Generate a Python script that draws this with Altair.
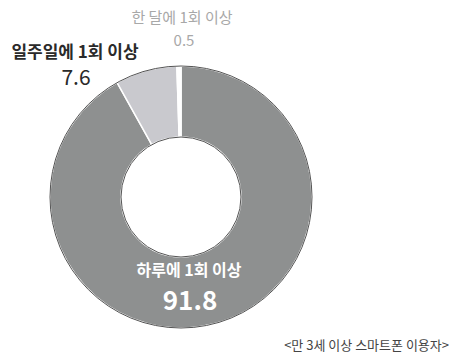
import altair as alt
import pandas as pd

categories = ["하루에 1회 이상", "일주일에 1회 이상", "한 달에 1회 이상"]
values = [91.8, 7.6, 0.5]
order = [1, 2, 3]
colors = ["#8e9090", "#c9c9ce", "#ffffff"]

df = pd.DataFrame({"cat": categories, "val": values, "ord": order})

FONT = "Noto Sans CJK KR"

donut = alt.Chart(df).mark_arc(
    outerRadius=131, innerRadius=60, stroke="#ffffff", strokeWidth=1.5
).encode(
    theta=alt.Theta("val:Q", stack=True),
    order=alt.Order("ord:Q"),
    color=alt.Color("cat:N", scale=alt.Scale(domain=categories, range=colors), legend=None),
    x=alt.value(181),
    y=alt.value(197),
)

outline = alt.Chart(pd.DataFrame({"a": [0]})).mark_arc(
    outerRadius=131, innerRadius=60, fillOpacity=0, stroke="#555555", strokeWidth=1
).encode(
    theta=alt.value(0),
    theta2=alt.value(6.2832),
    x=alt.value(181),
    y=alt.value(197),
)

lab = pd.DataFrame({
    "t": [categories[2], f"{values[2]}", categories[1], f"{values[1]}", categories[0], f"{values[0]}"],
    "x": [182, 184, 75, 76, 189, 190],
    "y": [18, 41, 53, 79, 271, 302],
    "size": [15, 15, 17, 21, 16, 26],
    "weight": ["normal", "normal", "bold", "normal", "bold", "bold"],
    "color": ["#a8a8a8", "#a8a8a8", "#2a2a2a", "#2a2a2a", "#ffffff", "#ffffff"],
})

texts = []
for _, r in lab.iterrows():
    texts.append(
        alt.Chart(pd.DataFrame({"t": [r["t"]]})).mark_text(
            font=FONT, fontSize=int(r["size"]), fontWeight=r["weight"],
            color=r["color"], align="center", baseline="middle"
        ).encode(text="t:N", x=alt.value(int(r["x"])), y=alt.value(int(r["y"])))
    )

foot = alt.Chart(pd.DataFrame({"t": ["<만 3세 이상 스마트폰 이용자>"]})).mark_text(
    font=FONT, fontSize=13, color="#444444", align="right", baseline="middle"
).encode(text="t:N", x=alt.value(449), y=alt.value(346))

chart = alt.layer(donut, outline, *texts, foot).properties(
    width=452, height=363, padding=0, autosize=alt.AutoSizeParams(type="none"),
    background="#ffffff"
).configure_view(stroke=None)

chart.save("out.html", embed_options={"renderer": "svg", "actions": False})
